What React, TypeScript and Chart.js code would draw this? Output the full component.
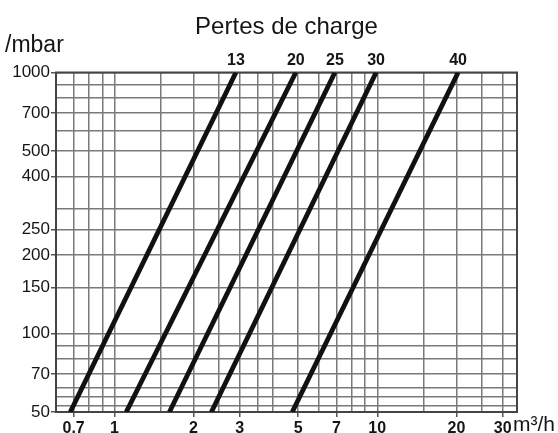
import React, { useEffect, useRef } from 'react';
import { Chart, registerables } from 'chart.js';

Chart.register(...registerables);

const titleText = 'Pertes de charge';
const yUnit = '/mbar';
const xUnit = 'm³/h';

const seriesNames = ['13', '20', '25', '30', '40'];
const flowAt50 = [0.68, 1.11, 1.62, 2.34, 4.75];
const flowAt1000 = [2.9, 4.9, 6.9, 9.9, 20.3];
const pressureEnds = [50, 1000];

const xGrid = [0.6, 0.7, 0.8, 0.9, 1, 1.5, 2, 2.5, 3, 3.5, 4, 5, 6, 7, 8, 9, 10, 15, 20, 25, 30, 34];
const xLabels = [0.7, 1, 2, 3, 5, 7, 10, 20, 30];
const yGrid = [50, 53, 57, 62, 70, 80, 90, 100, 150, 200, 250, 300, 400, 500, 600, 700, 800, 900, 1000];
const yLabels = [50, 70, 100, 150, 200, 250, 400, 500, 700, 1000];

const FONT = '"Liberation Sans", Arial, sans-serif';

const decor = {
  id: 'decor',
  beforeDatasetsDraw(chart: any) {
    const { ctx, chartArea: a } = chart;
    ctx.save();
    ctx.strokeStyle = '#444';
    ctx.lineWidth = 2;
    ctx.strokeRect(a.left, a.top, a.right - a.left, a.bottom - a.top);
    ctx.restore();
  },
  afterDraw(chart: any) {
    const { ctx, chartArea: a, scales } = chart;
    ctx.save();
    ctx.fillStyle = '#151515';
    ctx.textBaseline = 'alphabetic';
    ctx.font = `24px ${FONT}`;
    ctx.textAlign = 'center';
    ctx.fillText(titleText, (a.left + a.right) / 2, 34);
    ctx.textAlign = 'left';
    ctx.font = `23px ${FONT}`;
    ctx.fillText(yUnit, 5, 52);
    ctx.font = `21px ${FONT}`;
    ctx.fillText(xUnit, 513, 431);
    ctx.font = `bold 16px ${FONT}`;
    ctx.textAlign = 'center';
    chart.data.datasets.forEach((ds: any) => {
      const p = ds.data[ds.data.length - 1];
      ctx.fillText(ds.label, scales.x.getPixelForValue(p.x), 65);
    });
    ctx.restore();
  },
};

export default function App() {
  const ref = useRef<HTMLCanvasElement | null>(null);
  useEffect(() => {
    if (!ref.current) return;
    const datasets = seriesNames.map((name, i) => ({
      label: name,
      data: [
        { x: flowAt50[i], y: pressureEnds[0] },
        { x: flowAt1000[i], y: pressureEnds[1] },
      ],
      borderColor: '#111',
      backgroundColor: '#111',
      borderWidth: 4.8,
      pointRadius: 0,
      showLine: true,
      fill: false,
    }));
    const chart = new Chart(ref.current, {
      type: 'scatter',
      data: { datasets },
      options: {
        animation: false,
        responsive: false,
        layout: { padding: { top: 72.5, right: 41, left: 0, bottom: 0 } },
        plugins: { legend: { display: false }, tooltip: { enabled: false }, title: { display: false } },
        scales: {
          x: {
            type: 'logarithmic',
            min: 0.6,
            max: 34,
            afterBuildTicks: (s: any) => { s.ticks = xGrid.map((v) => ({ value: v })); },
            afterFit: (s: any) => { s.height = 21; },
            border: { display: false },
            grid: {
              color: '#7a7a7a',
              lineWidth: 1.5,
              tickLength: 5,
              tickColor: (c: any) => (c.tick && xLabels.includes(c.tick.value) ? '#555' : 'rgba(0,0,0,0)'),
            },
            ticks: {
              autoSkip: false,
              maxRotation: 0,
              padding: 2,
              color: '#151515',
              font: { family: FONT, size: 16, weight: 'bold' },
              callback: (v: any) => (xLabels.includes(Number(v)) ? String(v) : ''),
            },
          },
          y: {
            type: 'logarithmic',
            min: 50,
            max: 1000,
            afterBuildTicks: (s: any) => { s.ticks = yGrid.map((v) => ({ value: v })); },
            afterFit: (s: any) => { s.width = 56; },
            border: { display: false },
            grid: {
              color: '#7a7a7a',
              lineWidth: 1.5,
              tickLength: 5,
              tickColor: (c: any) => (c.tick && yLabels.includes(c.tick.value) ? '#555' : 'rgba(0,0,0,0)'),
            },
            ticks: {
              autoSkip: false,
              padding: 1,
              color: '#151515',
              font: { family: FONT, size: 17 },
              callback: (v: any) => (yLabels.includes(Number(v)) ? String(v) : ''),
            },
          },
        },
      } as any,
      plugins: [decor],
    });
    return () => chart.destroy();
  }, []);
  return (
    <div style={{ position: 'fixed', left: 0, top: 0, width: 558, height: 433, background: '#fff' }}>
      <canvas ref={ref} width={558} height={433} style={{ width: 558, height: 433, display: 'block' }} />
    </div>
  );
}
